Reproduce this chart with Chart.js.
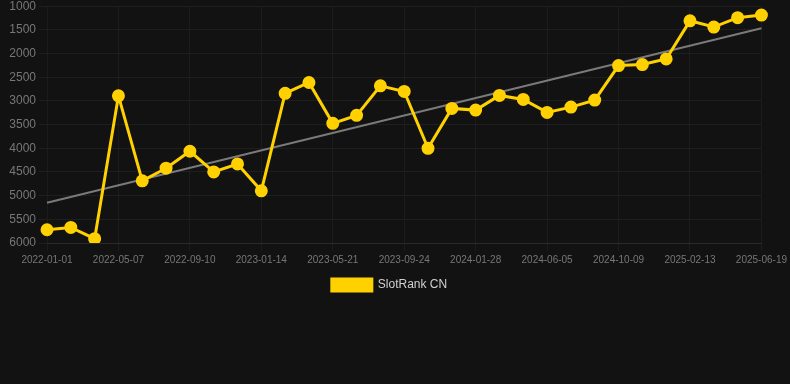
<!DOCTYPE html>
<html>
<head>
<meta charset="utf-8">
<script src="https://cdn.jsdelivr.net/npm/chart.js@4/dist/chart.umd.min.js"></script>
<style>
    html, body { margin: 0; padding: 0; background: #121212; overflow: hidden; }
    #wrap { position: relative; top: -4px; width: 790px; height: 305px; }
</style>
</head>
<body>
<div id="wrap"><canvas id="mainChart"></canvas></div>
<script>
// --- Data ---
const dates = [
    '2022-01-01', '2022-02-12', '2022-03-26', '2022-05-07', '2022-06-18', '2022-07-30',
    '2022-09-10', '2022-10-22', '2022-12-03', '2023-01-14', '2023-02-25', '2023-04-08',
    '2023-05-21', '2023-07-02', '2023-08-13', '2023-09-24', '2023-11-05', '2023-12-17',
    '2024-01-28', '2024-03-10', '2024-04-22', '2024-06-05', '2024-07-17', '2024-08-28',
    '2024-10-09', '2024-11-20', '2025-01-01', '2025-02-13', '2025-03-27', '2025-05-08',
    '2025-06-19'
];

const rankCN = [
    5720, 5672, 5909, 2893, 4688, 4421, 4063, 4499, 4331, 4899,
    2840, 2611, 3474, 3305, 2682, 2800, 4000, 3158, 3194, 2884,
    2968, 3242, 3131, 2983, 2253, 2232, 2114, 1309, 1440, 1242,
    1187
];

// trend line: only the two end values, the gap is spanned
const trendStart = 5152;
const trendEnd = 1467;
const trend = dates.map((d, i) => i === 0 ? trendStart : (i === dates.length - 1 ? trendEnd : null));

const yTicks = [1000, 1500, 2000, 2500, 3000, 3500, 4000, 4500, 5000, 5500, 6000];

// --- Chart ---
Chart.defaults.font.family = '"Liberation Sans", Arial, sans-serif';

const ctx = document.getElementById('mainChart').getContext('2d');
new Chart(ctx, {
    type: 'line',
    data: {
        labels: dates,
        datasets: [
            {
                label: 'SlotRank CN',
                data: rankCN,
                borderColor: '#ffd100',
                backgroundColor: '#ffd100',
                borderWidth: 3,
                pointRadius: 5,
                pointHoverRadius: 6,
                tension: 0
            },
            {
                label: 'trend',
                data: trend,
                borderColor: '#7a7a7a',
                borderWidth: 2,
                pointRadius: 0,
                spanGaps: true,
                tension: 0
            }
        ]
    },
    options: {
        responsive: true,
        maintainAspectRatio: false,
        animation: false,
        layout: { padding: { left: 0, right: 11 } },
        plugins: {
            legend: {
                position: 'bottom',
                labels: {
                    color: '#d0d0d0',
                    font: { size: 12 },
                    boxWidth: 40,
                    boxHeight: 12,
                    filter: item => item.text !== 'trend'
                }
            },
            tooltip: { enabled: false }
        },
        scales: {
            x: {
                grid: { color: '#1c1c1c' },
                border: { color: '#2a2a2a' },
                ticks: { color: '#777', font: { size: 10 }, maxRotation: 0, autoSkip: true }
            },
            y: {
                reverse: true,
                min: 1000,
                max: 6000,
                afterBuildTicks: axis => { axis.ticks = yTicks.map(v => ({ value: v })); },
                afterFit: axis => { axis.width = 47; },
                grid: { color: '#1e1e1e' },
                border: { display: false },
                ticks: { color: '#777', font: { size: 12 }, callback: v => String(v) }
            }
        }
    }
});
</script>
</body>
</html>
